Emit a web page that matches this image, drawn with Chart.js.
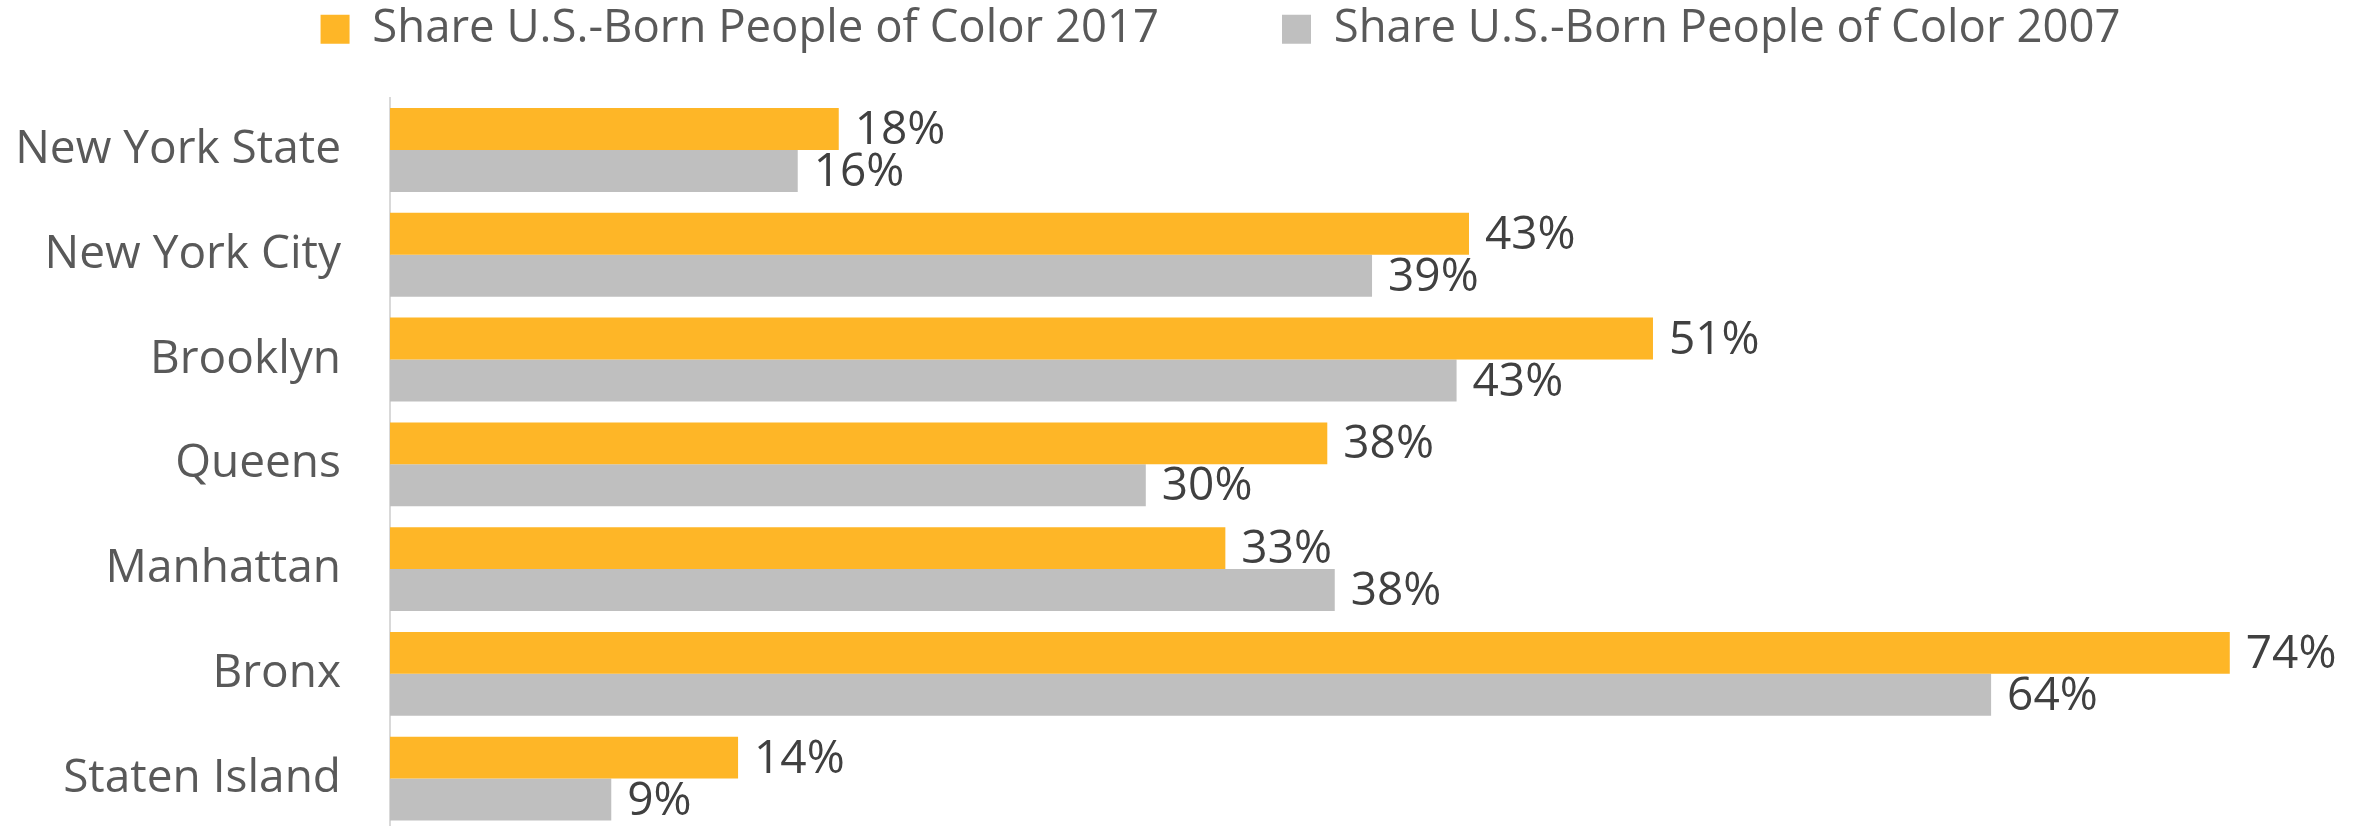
<!DOCTYPE html>
<html>
<head>
<meta charset="utf-8">
<script src="https://cdn.jsdelivr.net/npm/chart.js@4/dist/chart.umd.min.js"></script>
<style>
  html, body { margin: 0; padding: 0; background: #fff; overflow: hidden; }
  #wrap { position: relative; width: 2369px; height: 831px; }
</style>
</head>
<body>
<div id="wrap"><canvas id="c" width="2369" height="831"></canvas></div>
<script>
const categories = ['New York State', 'New York City', 'Brooklyn', 'Queens', 'Manhattan', 'Bronx', 'Staten Island'];
const seriesNames = ['Share U.S.-Born People of Color 2017', 'Share U.S.-Born People of Color 2007'];
const values2017 = [18.05, 43.4, 50.8, 37.7, 33.6, 74.0, 14.0];
const values2007 = [16.4, 39.5, 42.9, 30.4, 38.0, 64.4, 8.9];
const labels2017 = ['18%', '43%', '51%', '38%', '33%', '74%', '14%'];
const labels2007 = ['16%', '39%', '43%', '30%', '38%', '64%', '9%'];

const FONT = "'Open Sans', 'Noto Sans', sans-serif";

const dataLabels = {
  id: 'dataLabels',
  afterDatasetsDraw(chart) {
    const ctx = chart.ctx;
    const texts = [labels2017, labels2007];
    ctx.save();
    ctx.font = '46px ' + FONT;
    ctx.fillStyle = '#404040';
    ctx.textAlign = 'left';
    ctx.textBaseline = 'middle';
    chart.data.datasets.forEach((ds, di) => {
      const meta = chart.getDatasetMeta(di);
      meta.data.forEach((el, i) => {
        ctx.fillText(texts[di][i], el.x + 16, el.y + 2);
      });
    });
    ctx.restore();
  }
};

// place the legend row: vertical offset and a horizontal shift of its centre
const legendShift = {
  id: 'legendShift',
  afterLayout(chart) {
    const lg = chart.legend;
    if (!lg) return;
    const p = lg.options.labels.padding;
    lg.top = 6.5 - p;
    lg.bottom = 97;
    lg.left += 36;
    lg.right += 36;
  }
};

new Chart(document.getElementById('c'), {
  type: 'bar',
  data: {
    labels: categories,
    datasets: [
      { label: seriesNames[0], data: values2017, backgroundColor: '#FEB627', borderWidth: 0,
        categoryPercentage: 0.8, barPercentage: 1.0 },
      { label: seriesNames[1], data: values2007, backgroundColor: '#BFBFBF', borderWidth: 0,
        categoryPercentage: 0.8, barPercentage: 1.0 }
    ]
  },
  options: {
    indexAxis: 'y',
    responsive: false,
    animation: false,
    devicePixelRatio: 1,
    layout: { padding: { top: 0, left: 0, right: 0, bottom: 0 } },
    plugins: {
      legend: {
        position: 'top',
        align: 'center',
        maxHeight: 97.6,
        labels: {
          boxWidth: 29,
          boxHeight: 29,
          padding: 123,
          color: '#595959',
          font: { family: FONT, size: 45.5 }
        }
      },
      tooltip: { enabled: false }
    },
    scales: {
      x: {
        type: 'linear',
        min: 0,
        max: 79.6,
        display: false
      },
      y: {
        type: 'category',
        grid: { display: false, drawTicks: false },
        border: { display: true, color: '#D9D9D9', width: 2 },
        ticks: {
          color: '#595959',
          padding: 49,
          font: { family: FONT, size: 46 }
        },
        afterFit(scale) {
          scale.width = 390;
          scale.paddingTop = 0;
          scale.paddingBottom = 0;
        }
      }
    }
  },
  plugins: [dataLabels, legendShift]
});
</script>
</body>
</html>
